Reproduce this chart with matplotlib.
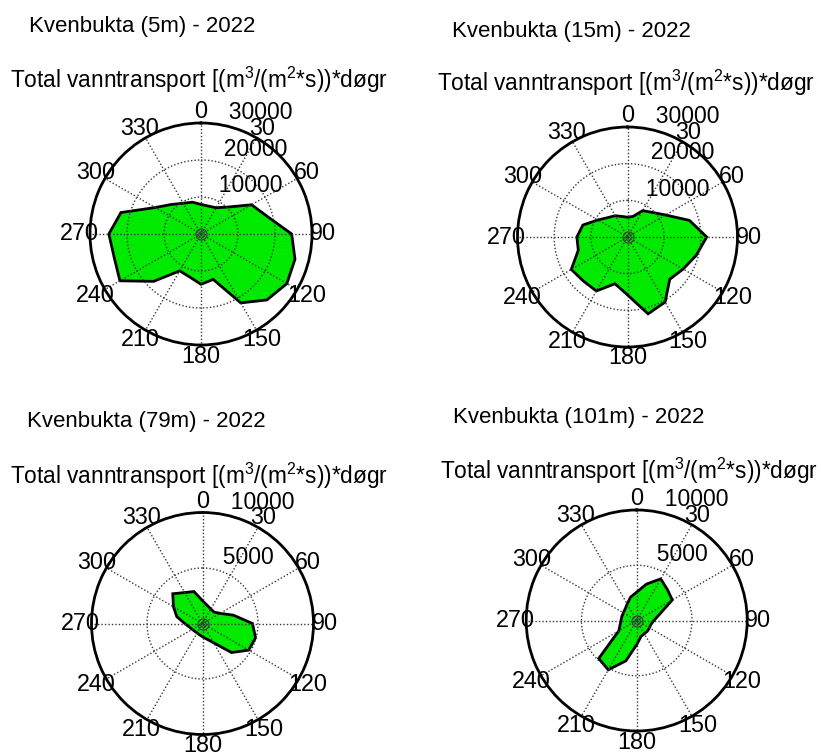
import numpy as np
import matplotlib
matplotlib.use("Agg")
import matplotlib.pyplot as plt

plt.rcParams["font.family"] = ["Liberation Sans", "DejaVu Sans"]
plt.rcParams["mathtext.fontset"] = "custom"
plt.rcParams["mathtext.rm"] = "Liberation Sans"
plt.rcParams["mathtext.default"] = "regular"

# directions (degrees, compass: 0 = north, clockwise)
directions = list(range(0, 360, 15))

# total water transport per direction
transport_5m = [8000, 7800, 8200, 10300, 15800, 18500, 24500, 26300, 26800, 25200, 21500, 12700,
                13600, 12000, 11500, 18100, 25300, 24300, 24900, 22400, 14300, 11300, 9600, 8900]
transport_15m = [5400, 5800, 8300, 9500, 12000, 17500, 21600, 19400, 17500, 16300, 20500, 21700,
                 15800, 13200, 17000, 17000, 17700, 13900, 13800, 12600, 9300, 7500, 6700, 5800]
transport_79m = [2060, 1680, 1510, 1460, 1830, 2890, 4500, 4950, 4800, 3700, 2010, 1450,
                 1200, 1050, 985, 990, 1060, 1230, 1600, 2400, 3020, 3790, 3220, 2980]
transport_101m = [2570, 3410, 4350, 3940, 3720, 2130, 1560, 1340, 1330, 1370, 1380, 1500,
                  2190, 3780, 5150, 4860, 1870, 1560, 1420, 1390, 1390, 1480, 1720, 2180]

titles = ["Kvenbukta (5m) - 2022", "Kvenbukta (15m) - 2022",
          "Kvenbukta (79m) - 2022", "Kvenbukta (101m) - 2022"]
subtitle = "Total vanntransport [(m$^3$/(m$^2$*s))*døgr"
ring_values = [[10000, 20000, 30000], [10000, 20000, 30000], [5000, 10000], [5000, 10000]]
angle_labels = list(range(0, 360, 30))

W, H = 821, 752
# (center x, center y, radius) in pixels, title (x, baseline), subtitle (x, baseline)
panels = [
    dict(c=(201, 234, 111), title=(29, 32), sub=(10, 88)),
    dict(c=(627.5, 237, 110), title=(452, 37), sub=(437, 91)),
    dict(c=(202.5, 623.5, 111), title=(27, 427), sub=(10, 484)),
    dict(c=(636.7, 620.5, 110.5), title=(453, 423), sub=(440, 479)),
]
series = [transport_5m, transport_15m, transport_79m, transport_101m]

fig = plt.figure(figsize=(W / 100, H / 100), dpi=100)
grid_kw = dict(color="#383838", lw=1.0, linestyle=(0, (1, 1.5)), zorder=3)

for p, vals, rings, title in zip(panels, series, ring_values, titles):
    cx, cy, rad = p["c"]
    ax = fig.add_axes([(cx - rad) / W, 1 - (cy + rad) / H, 2 * rad / W, 2 * rad / H],
                      projection="polar")
    rmax = rings[-1]
    ax.set_theta_zero_location("N")
    ax.set_theta_direction(-1)
    ax.set_ylim(0, rmax)
    ax.grid(False)
    ax.set_xticks([])
    ax.set_yticks([])
    ax.spines["polar"].set_linewidth(2.0)
    ax.spines["polar"].set_zorder(4)

    th = np.deg2rad(directions + directions[:1])
    r = np.array(vals + vals[:1])
    ax.fill(th, r, facecolor="#00ea00", edgecolor="black", lw=2.0, zorder=2)

    # dotted grid drawn above the fill
    for a in range(0, 360, 30):
        ax.plot([np.deg2rad(a)] * 2, [0, rmax], **grid_kw)
    circ = np.linspace(0, 2 * np.pi, 361)
    for rv in rings[:-1]:
        ax.plot(circ, np.full_like(circ, rv), **grid_kw)
    ax.plot([0], [0], "o", mfc="none", mec="#383838", ms=4, mew=0.8, zorder=3)
    ax.plot([0], [0], "o", mfc="none", mec="#383838", ms=8, mew=0.8, zorder=3)

    for a in angle_labels:
        ax.text(np.deg2rad(a), 1.1 * rmax, str(a), ha="center", va="center", fontsize=16.8)
    for rv in rings:
        ax.text(np.deg2rad(8), rv, "  " + str(rv), ha="left", va="bottom", fontsize=16.5)

    fig.text(p["title"][0] / W, 1 - p["title"][1] / H, title, ha="left", va="baseline",
             fontsize=16)
    fig.text(p["sub"][0] / W, 1 - p["sub"][1] / H, subtitle, ha="left", va="baseline",
             fontsize=16.3)

fig.savefig("out.png", dpi=100, facecolor="white")
